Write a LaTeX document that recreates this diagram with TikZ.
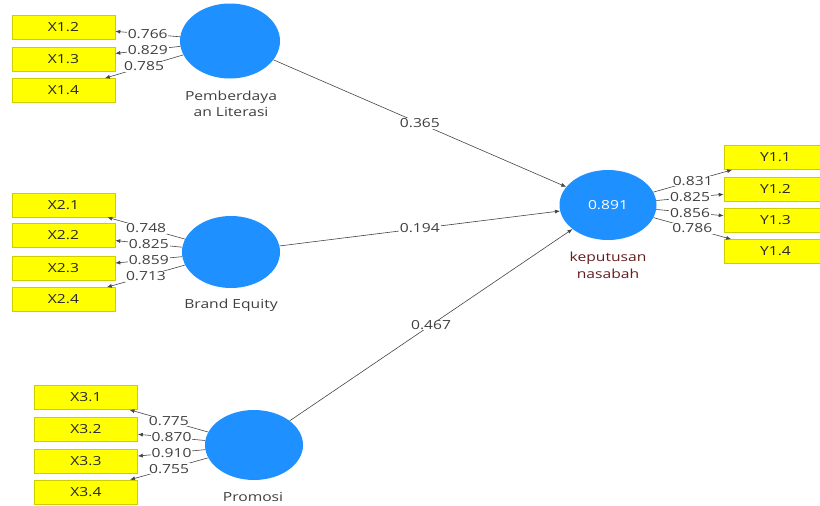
\documentclass[tikz,border=0pt]{standalone}
\usepackage{fontspec}
\setmainfont[FakeStretch=1.25]{Open Sans}
\usetikzlibrary{shapes.geometric,arrows.meta}
\definecolor{lvblue}{RGB}{30,144,255}
\definecolor{indyellow}{RGB}{255,255,0}
\definecolor{indborder}{RGB}{205,205,0}
\definecolor{labgray}{RGB}{64,64,64}
\definecolor{linegray}{RGB}{70,70,70}
\definecolor{maroon}{RGB}{100,30,30}
\tikzset{
  x=1pt, y=-1pt,
  every node/.style={font=\fontsize{12.5}{15}\selectfont},
  latent/.style={ellipse, fill=lvblue, draw=none, inner sep=0pt, minimum width=98pt, minimum height=72pt},
  indbox/.style={rectangle, fill=indyellow, draw=indborder, line width=0.6pt, minimum width=103pt, minimum height=24pt, inner sep=0pt, text=black!85},
  conn/.style={draw=linegray, line width=0.6pt, -{Latex[length=5pt,width=4pt]}},
  coef/.style={fill=white, inner sep=0.8pt, text=labgray},
  lvname/.style={align=center, text=labgray, font=\fontsize{12.5}{16}\selectfont},
}
\begin{document}
\begin{tikzpicture}
\clip (0,0) rectangle (820,506);
\fill[white] (0,0) rectangle (820,506);

% latent variables
\node[latent, minimum width=100pt, minimum height=75pt] (c1) at (230,41) {};
\node[latent] (c2) at (231,252) {};
\node[latent, minimum height=70pt] (c3) at (254,445) {};
\node[latent, minimum width=97pt, minimum height=70pt, text=white] (c4) at (608,205) {0.891};

% latent names
\node[lvname] (n1) at (231,104) {Pemberdaya\\an Literasi};
\node[lvname] (n2) at (231,305) {Brand Equity};
\node[lvname] (n3) at (253,497) {Promosi};
\node[lvname, text=maroon, font=\fontsize{12.5}{17}\selectfont] (n4) at (608,265.5) {keputusan\\nasabah};

% indicators
\node[indbox] (x12) at (63.5,27) {X1.2};
\node[indbox] (x13) at (63.5,59) {X1.3};
\node[indbox] (x14) at (63.5,90.5) {X1.4};

\node[indbox] (x21) at (63.5,205) {X2.1};
\node[indbox] (x22) at (63.5,235.5) {X2.2};
\node[indbox] (x23) at (63.5,268) {X2.3};
\node[indbox] (x24) at (63.5,299.5) {X2.4};

\node[indbox] (x31) at (86,397.5) {X3.1};
\node[indbox] (x32) at (86,429.5) {X3.2};
\node[indbox] (x33) at (86,461) {X3.3};
\node[indbox] (x34) at (86,492) {X3.4};

\node[indbox] (y11) at (775.5,157.5) {Y1.1};
\node[indbox] (y12) at (775.5,189.5) {Y1.2};
\node[indbox] (y13) at (775.5,220.5) {Y1.3};
\node[indbox] (y14) at (775.5,251.5) {Y1.4};

% outer loadings
\draw[conn] (c1) -- node[coef] {0.766} (x12);
\draw[conn] (c1) -- node[coef] {0.829} (x13);
\draw[conn] (c1) -- node[coef] {0.785} (x14);

\draw[conn] (c2) -- node[coef] {0.748} (x21);
\draw[conn] (c2) -- node[coef] {0.825} (x22);
\draw[conn] (c2) -- node[coef] {0.859} (x23);
\draw[conn] (c2) -- node[coef] {0.713} (x24);

\draw[conn] (c3) -- node[coef] {0.775} (x31);
\draw[conn] (c3) -- node[coef] {0.870} (x32);
\draw[conn] (c3) -- node[coef] {0.910} (x33);
\draw[conn] (c3) -- node[coef] {0.755} (x34);

\draw[conn] (c4) -- node[coef] {0.831} (y11);
\draw[conn] (c4) -- node[coef] {0.825} (y12);
\draw[conn] (c4) -- node[coef] {0.856} (y13);
\draw[conn] (c4) -- node[coef] {0.786} (y14);

% path coefficients
\draw[conn] (c1) -- node[coef] {0.365} (c4);
\draw[conn] (c2) -- node[coef] {0.194} (c4);
\draw[conn] (c3) -- node[coef] {0.467} (c4);
\end{tikzpicture}
\end{document}
